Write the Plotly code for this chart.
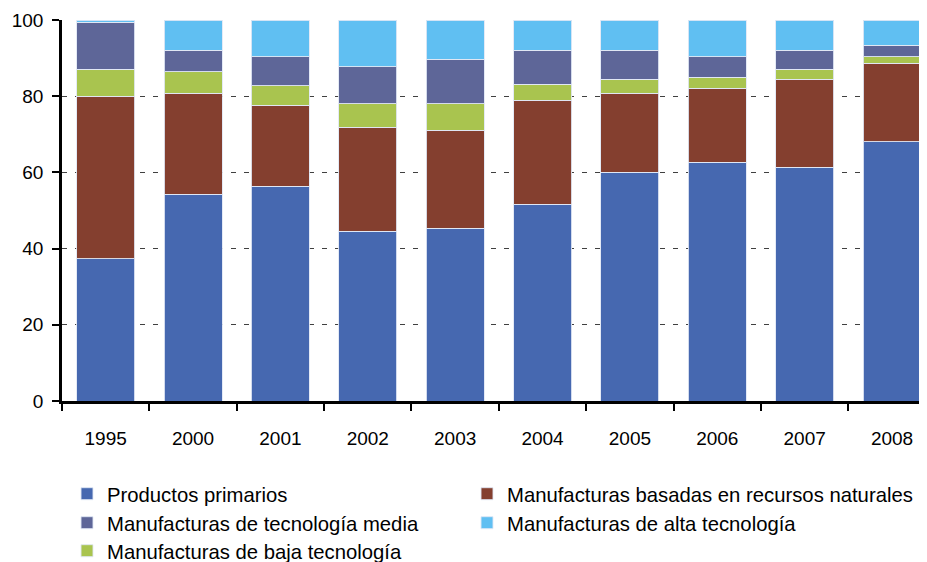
import plotly.graph_objects as go

years = ["1995", "2000", "2001", "2002", "2003", "2004", "2005", "2006", "2007", "2008"]
primarios = [37.3, 54.3, 56.4, 44.6, 45.4, 51.7, 60.1, 62.7, 61.4, 68.0]
basadas = [42.7, 26.5, 21.2, 27.2, 25.7, 27.3, 20.7, 19.4, 23.1, 20.6]
baja = [7.1, 5.6, 5.2, 6.2, 6.9, 4.2, 3.7, 2.9, 2.6, 1.7]
media = [12.3, 5.6, 7.5, 9.7, 11.7, 8.8, 7.5, 5.3, 4.9, 3.1]
alta = [0.6, 8.0, 9.7, 12.3, 10.3, 8.0, 8.0, 9.7, 8.0, 6.6]

# (name, values, colour, legend id) - stacking order bottom to top
series = [
    ("Productos primarios", primarios, "#4668B0", "legend"),
    ("Manufacturas basadas en recursos naturales", basadas, "#843F2F", "legend2"),
    ("Manufacturas de baja tecnología", baja, "#A9C44F", "legend5"),
    ("Manufacturas de tecnología media", media, "#5E6698", "legend3"),
    ("Manufacturas de alta tecnología", alta, "#60BFF2", "legend4"),
]

fig = go.Figure()
for name, vals, color, leg in series:
    fig.add_trace(go.Bar(
        x=years, y=vals, name=name, legend=leg,
        marker=dict(color=color, line=dict(color="rgba(225,232,245,0.9)", width=1)),
    ))

font = "Liberation Sans, Arial, sans-serif"
# the page body adds an 8px offset, so the figure is laid out 8px smaller
OFF = 8
W, H = 927 - OFF, 562 - OFF
PLOT_TOP, PLOT_BOT, PLOT_LEFT = 20 - OFF, 401 - OFF, 62 - OFF
PLOT_W = W - PLOT_LEFT


def py(px):
    return (PLOT_BOT - (px - OFF)) / (PLOT_BOT - PLOT_TOP)


def px_(xpx):
    return ((xpx - OFF) - PLOT_LEFT) / PLOT_W


def leg(xw, yw):
    return dict(
        orientation="h", x=px_(xw), xanchor="left", y=py(yw), yanchor="middle",
        font=dict(family=font, size=20.3, color="black"),
        bgcolor="rgba(0,0,0,0)",
    )


fig.update_layout(
    barmode="stack",
    bargap=0.335,
    width=W, height=H,
    margin=dict(l=PLOT_LEFT, r=0, t=PLOT_TOP, b=H - PLOT_BOT, autoexpand=False),
    plot_bgcolor="white", paper_bgcolor="white",
    font=dict(family=font, size=19, color="black"),
    showlegend=True,
    legend=leg(67, 494),
    legend2=leg(467, 494),
    legend3=leg(67, 523),
    legend4=leg(467, 523),
    legend5=leg(67, 551),
)
fig.update_xaxes(
    range=[-0.5, 9.4], automargin=False,
    showline=True, linecolor="black", linewidth=2.5,
    ticks="outside", tickson="boundaries", ticklen=7, tickwidth=2, tickcolor="black",
    ticklabelstandoff=18,
    showgrid=False,
)
fig.update_yaxes(
    range=[0, 100], tickvals=[0, 20, 40, 60, 80, 100], automargin=False,
    showline=True, linecolor="black", linewidth=2.5,
    ticks="outside", ticklen=7, tickwidth=2, tickcolor="black",
    ticklabelstandoff=5,
    showgrid=True, gridcolor="#404040", griddash="5px,8px", gridwidth=1,
    zeroline=False,
)
fig.write_html("out.html")
